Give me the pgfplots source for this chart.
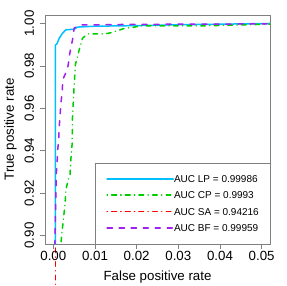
\documentclass[border=0pt]{standalone}
\usepackage{pgfplots}
\pgfplotsset{compat=1.18}
\usepackage{fontspec}
\setmainfont{Liberation Sans}
\definecolor{lpc}{HTML}{00BFFF}
\definecolor{cpc}{HTML}{00CD00}
\definecolor{sac}{HTML}{FF0000}
\definecolor{bfc}{HTML}{A020F0}
\definecolor{boxc}{HTML}{808080}
\pgfplotsset{
  lpstyle/.style={color=lpc, draw=lpc, solid, line width=1.5pt, line cap=round, line join=round},
  cpstyle/.style={color=cpc, draw=cpc, line width=1.5pt, line cap=round, line join=round, dash pattern=on 0.1pt off 4.5pt on 4.5pt off 4.5pt},
  sastyle/.style={color=sac, draw=sac, line width=1.5pt, line cap=round, line join=round, dash pattern=on 0.1pt off 4.5pt on 4.5pt off 4.5pt},
  bfstyle/.style={color=bfc, draw=bfc, line width=1.5pt, line cap=round, line join=round, dash pattern=on 5pt off 7pt},
}
\begin{document}
\begin{tikzpicture}
\begin{axis}[
  set layers,
  scale only axis, width=225pt, height=229pt,
  xmin=-0.002, xmax=0.052, ymin=0.896, ymax=1.004,
  scaled x ticks=false, scaled y ticks=false,
  xtick={0,0.01,0.02,0.03,0.04,0.05},
  xticklabels={0.00,0.01,0.02,0.03,0.04,0.05},
  ytick={0.90,0.92,0.94,0.96,0.98,1.00},
  yticklabels={0.90,0.92,0.94,0.96,0.98,1.00},
  xtick pos=bottom, ytick pos=left,
  tick align=outside, major tick length=5pt,
  tick style={boxc, line width=0.6pt},
  axis line style={boxc, line width=0.6pt},
  xticklabel style={anchor=north, inner sep=0pt, yshift=3.5pt, font=\fontsize{13.3}{15}\selectfont},
  yticklabel style={xshift=2.8pt, rotate=90, anchor=south, inner sep=0pt, font=\fontsize{13.3}{15}\selectfont},
  xticklabel shift=6pt, yticklabel shift=8.5pt,
  xlabel={False positive rate}, ylabel={True positive rate},
  xlabel style={at={([yshift=-37pt]rel axis cs:0.5,0)}, anchor=base, inner sep=0pt, font=\fontsize{13.3}{15}\selectfont},
  ylabel style={at={([xshift=-31pt]rel axis cs:0,0.5)}, anchor=base, inner sep=0pt, font=\fontsize{13.3}{15}\selectfont},
  legend cell align=left,
  legend image code/.code={\draw[#1] (0pt,0pt) -- (33pt,0pt); \path (0pt,0pt) -- (66pt,0pt);},
  legend style={at={(rel axis cs:1,0)}, anchor=south east, draw=boxc,
    inner xsep=11pt, inner ysep=12.4pt, row sep=9.1pt, column sep=0pt,
    nodes={inner sep=0pt, text height=7.2pt, text depth=0pt},
    font=\fontsize{10}{12}\selectfont},
]
\addplot[lpstyle] coordinates {
(0.0005,0.85) (0.0005,0.9898) (0.0009,0.9905) (0.0014,0.9930) (0.0022,0.9954)
(0.0030,0.9970) (0.0050,0.9973) (0.0058,0.9983) (0.0098,0.9987) (0.0200,0.9990)
(0.0300,0.9994) (0.0450,0.9998) (0.0520,1.0000)};
\addlegendentry{AUC LP = 0.99986}
\addplot[cpstyle] coordinates {
(0.0017,0.85) (0.0019,0.898) (0.0024,0.9075) (0.0028,0.9145) (0.0030,0.9216)
(0.0036,0.9264) (0.0040,0.9285) (0.0042,0.9358) (0.0045,0.9430) (0.0046,0.9557)
(0.0050,0.9710) (0.0053,0.9807) (0.0058,0.9844) (0.0062,0.9875) (0.0070,0.9930)
(0.0082,0.9951) (0.0124,0.9951) (0.0140,0.9957) (0.0160,0.9970) (0.0172,0.9978)
(0.0191,0.9981) (0.0208,0.9989) (0.0364,0.9989) (0.0447,0.9993) (0.0520,0.9997)};
\addlegendentry{AUC CP = 0.9993}
\addplot[sastyle, on layer=axis background] coordinates {
(0.0005,0.80) (0.0005,0.90)};
\addlegendentry{AUC SA = 0.94216}
\addplot[bfstyle] coordinates {
(0.0003,0.85) (0.0004,0.898) (0.0007,0.929) (0.0009,0.9335) (0.0010,0.9396)
(0.0013,0.9453) (0.0014,0.9510) (0.0016,0.9562) (0.0018,0.9618) (0.0021,0.9675)
(0.0023,0.9737) (0.0034,0.9784) (0.0037,0.9823) (0.0038,0.9844) (0.0042,0.9883)
(0.0046,0.9922) (0.0050,0.9978) (0.0062,0.9993) (0.0200,0.9996) (0.0520,0.9998)};
\addlegendentry{AUC BF = 0.99959}
\end{axis}
\pgfresetboundingbox
\path ([shift={(-45pt,-42pt)}]current axis.south west) rectangle ([shift={(16pt,15pt)}]current axis.north east);
\end{tikzpicture}
\end{document}
